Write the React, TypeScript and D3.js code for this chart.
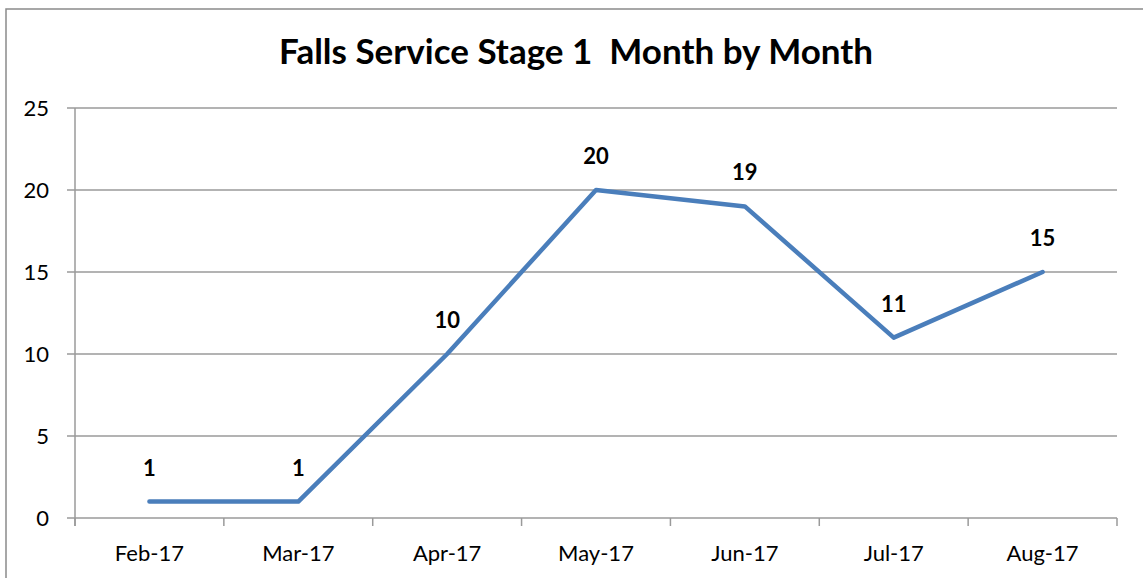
import React, { useEffect, useRef } from 'react'
import * as d3 from 'd3'

const months = ['Feb-17', 'Mar-17', 'Apr-17', 'May-17', 'Jun-17', 'Jul-17', 'Aug-17']
const falls = [1, 1, 10, 20, 19, 11, 15]
const yTicks = [0, 5, 10, 15, 20, 25]

const App = () => {
  const svgRef = useRef<SVGSVGElement>(null)

  useEffect(() => {
    if (!svgRef.current) return
    const width = 1143
    const height = 578
    const plot = { left: 75, right: 1117, top: 108, bottom: 518 }
    const font = 'Lato, "DejaVu Sans", sans-serif'
    const grey = '#9a9a9a'

    const svg = d3.select(svgRef.current)
    svg.selectAll('*').remove()

    svg.append('rect')
      .attr('x', 6)
      .attr('y', 9)
      .attr('width', width + 20)
      .attr('height', height + 20)
      .attr('fill', 'white')
      .attr('stroke', '#8a8a8a')
      .attr('stroke-width', 1.5)

    svg.append('text')
      .attr('x', 576)
      .attr('y', 64)
      .attr('text-anchor', 'middle')
      .style('font-family', font)
      .style('font-weight', 'bold')
      .style('font-size', '35px')
      .style('white-space', 'pre')
      .text('Falls Service Stage 1  Month by Month')

    const x = d3.scaleBand().domain(months).range([plot.left, plot.right])
    const y = d3.scaleLinear().domain([0, 25]).range([plot.bottom, plot.top])

    // gridlines + y tick marks
    svg.append('g')
      .selectAll('line')
      .data(yTicks)
      .enter()
      .append('line')
      .attr('x1', plot.left - 8)
      .attr('x2', plot.right)
      .attr('y1', d => y(d))
      .attr('y2', d => y(d))
      .attr('stroke', grey)
      .attr('stroke-width', 1.5)

    svg.append('line')
      .attr('x1', plot.left)
      .attr('x2', plot.left)
      .attr('y1', plot.top)
      .attr('y2', plot.bottom + 8)
      .attr('stroke', grey)
      .attr('stroke-width', 1.5)

    // category boundary ticks
    const bounds = months.map(m => x(m) as number).concat([plot.right])
    svg.append('g')
      .selectAll('line')
      .data(bounds)
      .enter()
      .append('line')
      .attr('x1', d => d)
      .attr('x2', d => d)
      .attr('y1', plot.bottom)
      .attr('y2', plot.bottom + 8)
      .attr('stroke', grey)
      .attr('stroke-width', 1.5)

    svg.append('g')
      .selectAll('text')
      .data(yTicks)
      .enter()
      .append('text')
      .attr('x', 49)
      .attr('y', d => y(d))
      .attr('dy', '0.35em')
      .attr('text-anchor', 'end')
      .style('font-family', font)
      .style('font-size', '22px')
      .text(d => d)

    const cx = (m: string) => (x(m) as number) + x.bandwidth() / 2

    svg.append('g')
      .selectAll('text')
      .data(months)
      .enter()
      .append('text')
      .attr('x', d => cx(d))
      .attr('y', 561)
      .attr('text-anchor', 'middle')
      .style('font-family', font)
      .style('font-size', '22px')
      .text(d => d)

    const line = d3.line<number>()
      .x((d, i) => cx(months[i]))
      .y(d => y(d))

    svg.append('path')
      .datum(falls)
      .attr('d', line)
      .attr('fill', 'none')
      .attr('stroke', '#4a7ebb')
      .attr('stroke-width', 4.5)
      .attr('stroke-linejoin', 'round')
      .attr('stroke-linecap', 'round')

    svg.append('g')
      .selectAll('text')
      .data(falls)
      .enter()
      .append('text')
      .attr('x', (d, i) => cx(months[i]))
      .attr('y', d => y(d) - 26)
      .attr('text-anchor', 'middle')
      .style('font-family', font)
      .style('font-weight', 'bold')
      .style('font-size', '22px')
      .text(d => d)
  }, [])

  return (
    <svg
      ref={svgRef}
      width={1143}
      height={578}
      style={{ position: 'absolute', left: 0, top: 0, background: 'white' }}
    />
  )
}

export default App
